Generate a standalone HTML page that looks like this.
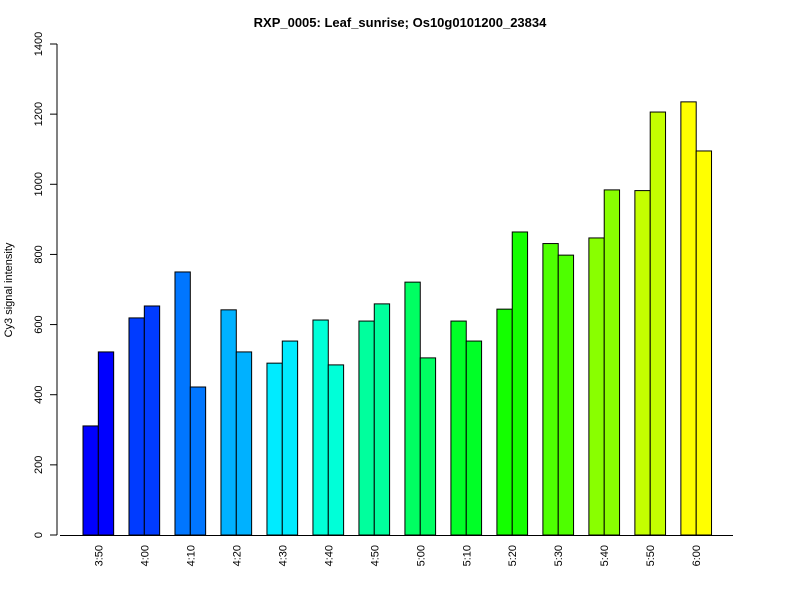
<!DOCTYPE html>
<html><head><meta charset="utf-8"><style>
body{margin:0;background:#fff;font-family:"Liberation Sans",sans-serif}
svg{display:block}
</style></head><body>
<svg id="chart" width="800" height="600" xmlns="http://www.w3.org/2000/svg">
<rect width="800" height="600" fill="#fff"/>
<text x="400" y="27" text-anchor="middle" font-size="13" font-weight="bold">RXP_0005: Leaf_sunrise; Os10g0101200_23834</text>
<text transform="translate(12,290) rotate(-90)" text-anchor="middle" font-size="11">Cy3 signal intensity</text>
<g id="yaxis"></g>
<g id="bars"></g>
<g id="xlabels"></g>
</svg>
<script>
const categories=["3:50","4:00","4:10","4:20","4:30","4:40","4:50","5:00","5:10","5:20","5:30","5:40","5:50","6:00"];
const series1=[311,619,750,642,490,613,610,721,610,644,831,847,982,1235];
const series2=[522,653,422,522,553,485,659,505,553,864,798,984,1206,1095];
const yTicks=[0,200,400,600,800,1000,1200,1400];
const NS="http://www.w3.org/2000/svg";
const y0=535,y1=44,yMax=1400;
const y=v=>y0-(v/yMax)*(y0-y1);
const unit=15.33,firstLeft=83;
const x=i=>firstLeft+i*3*unit;
function mk(t,a,p){const e=document.createElementNS(NS,t);for(const k in a)e.setAttribute(k,a[k]);p.appendChild(e);return e;}
const ya=document.getElementById('yaxis');
const ax=mk('line',{x1:57,x2:57,y1:y(0),y2:y(yMax),stroke:'#000'},ya);


yTicks.forEach(v=>{
 const tk=mk('line',{x1:50,x2:57,y1:y(v),y2:y(v),stroke:'#000'},ya);
 
 
 const t=mk('text',{transform:`translate(42,${y(v)}) rotate(-90)`,'text-anchor':'middle','font-size':'11'},ya);
 t.textContent=v;
 
 
});
const base=mk('line',{x1:60,x2:733,y1:y0+0.5,y2:y0+0.5,stroke:'#000'},ya);


const bg=document.getElementById('bars'),xl=document.getElementById('xlabels');
categories.forEach((c,i)=>{
 const h=240-i*(180/13);
 const col=`hsl(${h},100%,50%)`;
 [series1[i],series2[i]].forEach((v,j)=>{
  const r=mk('rect',{x:x(i)+j*unit,y:y(v),width:unit,height:y0-y(v),fill:col,stroke:'#000','stroke-width':1},bg);
  
  
 });
 const t=mk('text',{transform:`translate(${x(i)+unit+4},545) rotate(-90)`,'text-anchor':'end','font-size':'11'},xl);
 t.textContent=c;
 
 
});
</script>
</body></html>
